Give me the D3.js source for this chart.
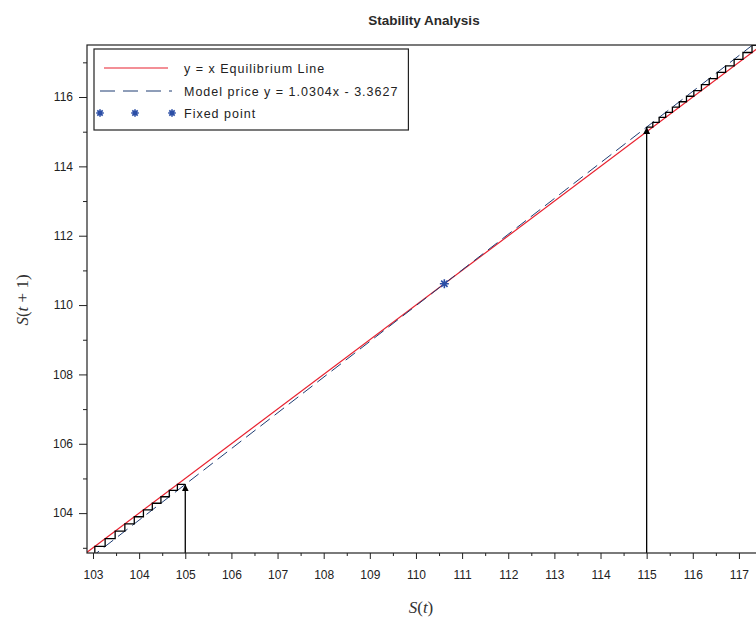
<!DOCTYPE html>
<html><head><meta charset="utf-8">
<script src="https://cdn.jsdelivr.net/npm/d3@7"></script>
<style>body{margin:0;background:#fff}svg{display:block}</style>
</head><body>
<svg id="c" width="756" height="622"></svg>
<script>
// ---- data ----
const titleText = "Stability Analysis";
const xTicks = [103,104,105,106,107,108,109,110,111,112,113,114,115,116,117];
const xMinor = [103.5,104.5,105.5,106.5,107.5,108.5,109.5,110.5,111.5,112.5,113.5,114.5,115.5,116.5];
const yTicks = [104,106,108,110,112,114,116];
const yMinor = [103,105,107,109,111,113,115,117];
const xDomain = [102.87, 117.5];
const yDomain = [102.85, 117.5];
const modelSlope = 1.0304, modelIntercept = -3.3627;
const fixedPoint = [110.615, 110.615];
const cobwebLow = [105,104.8293,104.6534,104.4722,104.2854,104.0930,103.8947,103.6904,103.4799,103.2630,103.0395,102.8092,102.5719];
const cobwebHigh = [115,115.1333,115.2707,115.4122,115.5580,115.7083,115.8631,116.0226,116.1870,116.3564,116.5310,116.7108,116.8961,117.0870,117.2838,117.4865,117.6954];
const legendLabels = ["y = x Equilibrium Line","Model price y = 1.0304x - 3.3627","Fixed point"];

// ---- layout ----
const svg = d3.select("#c");
const L = 87, R = 762, T = 45, B = 553;
const x = d3.scaleLinear().domain(xDomain).range([L, R]);
const y = d3.scaleLinear().domain(yDomain).range([B, T]);
const font = "'Liberation Sans', Arial, sans-serif";
const red = "#e8202e", blue = "#1f3d73", starCol = "#2b4ea6";

const defs = svg.append("defs");
defs.append("clipPath").attr("id","pc")
  .append("rect").attr("x",L).attr("y",T).attr("width",R-L).attr("height",B-T);
defs.append("marker").attr("id","ah").attr("viewBox","0 0 10 10").attr("refX",10).attr("refY",5)
  .attr("markerWidth",7).attr("markerHeight",7).attr("orient","auto").attr("markerUnits","userSpaceOnUse")
  .append("path").attr("d","M0,0 L10,5 L0,10 z").attr("fill","#000");

// title
svg.append("text").attr("x",424).attr("y",25).attr("text-anchor","middle")
  .attr("font-family",font).attr("font-size",13.5).attr("font-weight","bold").attr("fill","#2a2a2a").text(titleText);

const g = svg.append("g").attr("clip-path","url(#pc)");

// y = x line
g.append("line").attr("x1",x(102)).attr("y1",y(102)).attr("x2",x(118)).attr("y2",y(118))
  .attr("stroke",red).attr("stroke-width",1.2);
// model line
g.append("line").attr("x1",x(102)).attr("y1",y(modelSlope*102+modelIntercept))
  .attr("x2",x(118)).attr("y2",y(modelSlope*118+modelIntercept))
  .attr("stroke",blue).attr("stroke-width",1).attr("stroke-dasharray","12,6");

// cobwebs
function cobweb(seq){
  const arrowPath = [[seq[0], yDomain[0]],[seq[0], seq[1]]];
  g.append("path").attr("d", d3.line().x(d=>x(d[0])).y(d=>y(d[1]))(arrowPath))
    .attr("stroke","#000").attr("stroke-width",1.3).attr("fill","none").attr("marker-end","url(#ah)");
  const pts = [[seq[0], seq[1]]];
  for (let i=1;i<seq.length-1;i++){ pts.push([seq[i],seq[i]]); pts.push([seq[i],seq[i+1]]); }
  g.append("path").attr("d", d3.line().x(d=>x(d[0])).y(d=>y(d[1]))(pts))
    .attr("stroke","#000").attr("stroke-width",1.3).attr("fill","none");
}
cobweb(cobwebLow);
cobweb(cobwebHigh);

// star marker
function star(sel, cx, cy, r){
  const p = [];
  for (let k=0;k<4;k++){ const a = k*Math.PI/4; p.push(`M${cx-r*Math.cos(a)},${cy-r*Math.sin(a)}L${cx+r*Math.cos(a)},${cy+r*Math.sin(a)}`); }
  sel.append("path").attr("d",p.join("")).attr("stroke",starCol).attr("stroke-width",1.6);
}
star(g, x(fixedPoint[0]), y(fixedPoint[1]), 4.5);

// frame
svg.append("rect").attr("x",L).attr("y",T).attr("width",R-L).attr("height",B-T)
  .attr("fill","none").attr("stroke","#222").attr("stroke-width",1.2);

// axes
const xa = svg.append("g").attr("transform",`translate(0,${B})`)
  .call(d3.axisBottom(x).tickValues(xTicks).tickFormat(d3.format("d")).tickSize(6).tickPadding(11));
const xm = svg.append("g").attr("transform",`translate(0,${B})`)
  .call(d3.axisBottom(x).tickValues(xMinor).tickFormat("").tickSize(3));
const ya = svg.append("g").attr("transform",`translate(${L},0)`)
  .call(d3.axisLeft(y).tickValues(yTicks).tickFormat(d3.format("d")).tickSize(8).tickPadding(6));
const ym = svg.append("g").attr("transform",`translate(${L},0)`)
  .call(d3.axisLeft(y).tickValues(yMinor).tickFormat("").tickSize(4));
[xa,xm,ya,ym].forEach(a=>{
  a.select(".domain").remove();
  a.selectAll("line").attr("stroke","#222");
  a.selectAll("text").attr("font-family",font).attr("font-size",12).attr("fill","#222");
});

// axis labels (LaTeX-like)
const xl = svg.append("text").attr("x",421).attr("y",613).attr("text-anchor","middle")
  .attr("font-family","'Liberation Serif',serif").attr("font-size",17).attr("fill","#333");
xl.append("tspan").attr("font-style","italic").text("S");
xl.append("tspan").text("(");
xl.append("tspan").attr("font-style","italic").text("t");
xl.append("tspan").text(")");
const yl = svg.append("text").attr("transform","translate(28,300) rotate(-90)").attr("text-anchor","middle")
  .attr("font-family","'Liberation Serif',serif").attr("font-size",17).attr("fill","#333");
yl.append("tspan").attr("font-style","italic").text("S");
yl.append("tspan").text("(");
yl.append("tspan").attr("font-style","italic").text("t");
yl.append("tspan").text(" + 1)");

// legend
const lg = svg.append("g");
const box = lg.append("rect").attr("x",94).attr("y",49).attr("height",81)
  .attr("fill","#fff").attr("stroke","#222").attr("stroke-width",1.2);
const rows = [68, 91, 113];
lg.append("line").attr("x1",104).attr("x2",168).attr("y1",rows[0]).attr("y2",rows[0]).attr("stroke",red).attr("stroke-width",1.2);
lg.append("line").attr("x1",100).attr("x2",172).attr("y1",rows[1]).attr("y2",rows[1]).attr("stroke",blue).attr("stroke-width",1).attr("stroke-dasharray","15,8");
[100,135,172].forEach(cx=>star(lg,cx,rows[2],3.8));
let maxEnd = 0;
legendLabels.forEach((t,i)=>{
  const tx = lg.append("text").attr("x",184).attr("y",rows[i]+4.5).attr("font-family",font).attr("font-size",12.5)
    .attr("letter-spacing",1).attr("fill","#222").text(t);
  maxEnd = Math.max(maxEnd, 184 + tx.node().getComputedTextLength());
});
box.attr("width", maxEnd + 10 - 94);
</script>
</body></html>
